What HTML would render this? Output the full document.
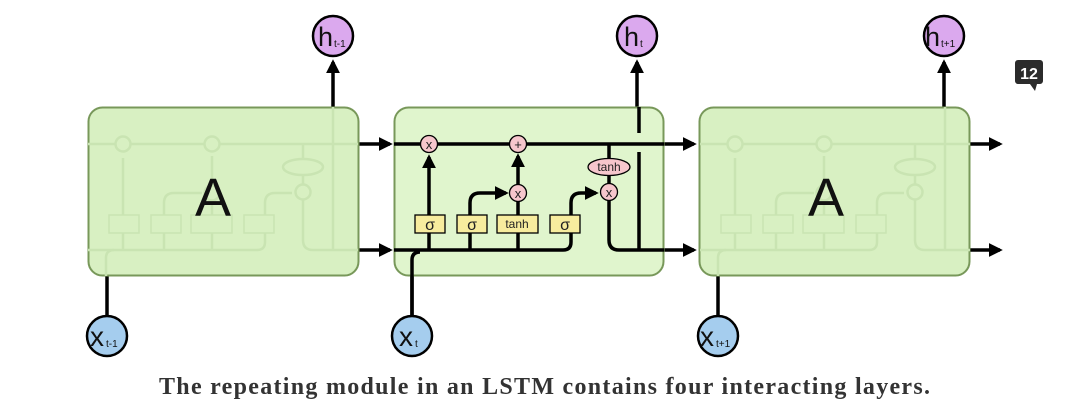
<!DOCTYPE html>
<html><head><meta charset="utf-8"><style>
html,body{margin:0;padding:0;background:#fff;width:1080px;height:411px;overflow:hidden}
svg{display:block}
</style></head><body>
<svg width="1080" height="411" viewBox="0 0 1080 411" xmlns="http://www.w3.org/2000/svg" font-family="Liberation Sans, DejaVu Sans, sans-serif">
<defs>
<marker id="ah" markerWidth="4" markerHeight="4" refX="3.2" refY="2" orient="auto" markerUnits="strokeWidth"><path d="M0,0 L4,2 L0,4 z" fill="#000"/></marker>
</defs>

<g stroke="#000" stroke-width="3.5" fill="none">
<line x1="358" y1="144" x2="390" y2="144" marker-end="url(#ah)"/>
<line x1="358" y1="250" x2="390" y2="250" marker-end="url(#ah)"/>
<line x1="664" y1="144" x2="694" y2="144" marker-end="url(#ah)"/>
<line x1="664" y1="250" x2="694" y2="250" marker-end="url(#ah)"/>
<line x1="970" y1="144" x2="1000" y2="144" marker-end="url(#ah)"/>
<line x1="970" y1="250" x2="1000" y2="250" marker-end="url(#ah)"/>
<line x1="333" y1="107" x2="333" y2="62" marker-end="url(#ah)"/>
<line x1="637" y1="107" x2="637" y2="62" marker-end="url(#ah)"/>
<line x1="944" y1="107" x2="944" y2="62" marker-end="url(#ah)"/>
<line x1="107" y1="276" x2="107" y2="316"/>
<line x1="412" y1="276" x2="412" y2="316"/>
<line x1="718" y1="276" x2="718" y2="316"/>
</g>

<rect x="88.5" y="107.5" width="270" height="168" rx="14" fill="#d8f0c2" stroke="#78985a" stroke-width="2"/>
<g transform="translate(-306,0)" stroke="#c9e4b2" stroke-width="2.5" fill="none">
<line x1="394" y1="144" x2="664" y2="144"/>
<path d="M394 250 L563 250 Q571 250 571 242 L571 203 Q571 193 581 193 L598 193"/>
<path d="M412 276 L412 258 Q412 250 420 250"/>
<line x1="429" y1="250" x2="429" y2="158"/>
<path d="M470 250 L470 203 Q470 193 480 193 L508 193"/>
<line x1="518" y1="250" x2="518" y2="156"/>
<line x1="609" y1="144" x2="609" y2="184"/>
<path d="M609 200 L609 240 Q609 250 619 250 L664 250"/>
<line x1="639" y1="107" x2="639" y2="250"/>
<circle cx="429" cy="144" r="7.5" fill="#d8f0c2"/><circle cx="518" cy="144" r="7.5" fill="#d8f0c2"/>
<circle cx="518" cy="193" r="7.5" fill="#d8f0c2"/><circle cx="609" cy="192" r="7.5" fill="#d8f0c2"/>
<ellipse cx="609" cy="167" rx="20" ry="8" fill="#d8f0c2"/>
<rect x="415" y="215" width="30" height="18" fill="#d8f0c2" stroke-width="1.5"/><rect x="457" y="215" width="30" height="18" fill="#d8f0c2" stroke-width="1.5"/>
<rect x="497" y="215" width="41" height="18" fill="#d8f0c2" stroke-width="1.5"/><rect x="550" y="215" width="30" height="18" fill="#d8f0c2" stroke-width="1.5"/>
</g>
<text x="213" y="216" font-size="54" text-anchor="middle" fill="#111">A</text>

<rect x="699.5" y="107.5" width="270" height="168" rx="14" fill="#d8f0c2" stroke="#78985a" stroke-width="2"/>
<g transform="translate(306,0)" stroke="#c9e4b2" stroke-width="2.5" fill="none">
<line x1="394" y1="144" x2="664" y2="144"/>
<path d="M394 250 L563 250 Q571 250 571 242 L571 203 Q571 193 581 193 L598 193"/>
<path d="M412 276 L412 258 Q412 250 420 250"/>
<line x1="429" y1="250" x2="429" y2="158"/>
<path d="M470 250 L470 203 Q470 193 480 193 L508 193"/>
<line x1="518" y1="250" x2="518" y2="156"/>
<line x1="609" y1="144" x2="609" y2="184"/>
<path d="M609 200 L609 240 Q609 250 619 250 L664 250"/>
<line x1="639" y1="107" x2="639" y2="250"/>
<circle cx="429" cy="144" r="7.5" fill="#d8f0c2"/><circle cx="518" cy="144" r="7.5" fill="#d8f0c2"/>
<circle cx="518" cy="193" r="7.5" fill="#d8f0c2"/><circle cx="609" cy="192" r="7.5" fill="#d8f0c2"/>
<ellipse cx="609" cy="167" rx="20" ry="8" fill="#d8f0c2"/>
<rect x="415" y="215" width="30" height="18" fill="#d8f0c2" stroke-width="1.5"/><rect x="457" y="215" width="30" height="18" fill="#d8f0c2" stroke-width="1.5"/>
<rect x="497" y="215" width="41" height="18" fill="#d8f0c2" stroke-width="1.5"/><rect x="550" y="215" width="30" height="18" fill="#d8f0c2" stroke-width="1.5"/>
</g>
<text x="826" y="216" font-size="54" text-anchor="middle" fill="#111">A</text>

<rect x="394.5" y="107.5" width="269" height="168" rx="14" fill="#e0f5cd" stroke="#78985a" stroke-width="2"/>
<g stroke="#000" stroke-width="3.5" fill="none">
<line x1="394" y1="144" x2="664" y2="144"/>
<line x1="639" y1="107" x2="639" y2="133"/>
<line x1="639" y1="152" x2="639" y2="250"/>
<path d="M394 250 L563 250 Q571 250 571 242 L571 203 Q571 193 581 193 L596 193" marker-end="url(#ah)"/>
<path d="M412 316 L412 260 Q412 252 420 252"/>
<line x1="429" y1="250" x2="429" y2="157" marker-end="url(#ah)"/>
<path d="M470 250 L470 203 Q470 193 480 193 L506 193" marker-end="url(#ah)"/>
<line x1="518" y1="250" x2="518" y2="156" marker-end="url(#ah)"/>
<line x1="609" y1="144" x2="609" y2="184"/>
<path d="M609 200 L609 240 Q609 250 619 250 L664 250"/>
</g>
<g stroke="#000" stroke-width="1.3">
<circle cx="429" cy="144" r="8.5" fill="#f6c6cc"/><circle cx="518" cy="144" r="8.5" fill="#f6c6cc"/>
<circle cx="518" cy="193" r="8.5" fill="#f6c6cc"/><circle cx="609" cy="192" r="8.5" fill="#f6c6cc"/>
<ellipse cx="609" cy="167" rx="21" ry="8.5" fill="#f6c6cc"/>
<rect x="415" y="215" width="30" height="18" fill="#f7ec9e"/><rect x="457" y="215" width="30" height="18" fill="#f7ec9e"/>
<rect x="497" y="215" width="41" height="18" fill="#f7ec9e"/><rect x="550" y="215" width="30" height="18" fill="#f7ec9e"/>
</g>
<g font-size="13" text-anchor="middle" fill="#222">
<text x="429" y="149">x</text><text x="518" y="149">+</text><text x="518" y="198">x</text><text x="609" y="197">x</text>
<text x="609" y="171" font-size="12">tanh</text>
<text x="430" y="230" font-size="16">σ</text><text x="472" y="230" font-size="16">σ</text>
<text x="517" y="228" font-size="12">tanh</text><text x="565" y="230" font-size="16">σ</text>
</g>

<g stroke="#000" stroke-width="2.5" fill="#dba9ee">
<circle cx="333" cy="36" r="20"/><circle cx="637" cy="36" r="20"/><circle cx="944" cy="36" r="20"/>
</g>
<g fill="#111">
<text x="318" y="46" font-size="27">h</text><text x="334" y="47" font-size="10">t-1</text>
<text x="624" y="46" font-size="27">h</text><text x="640" y="47" font-size="10">t</text>
<text x="925" y="46" font-size="27">h</text><text x="941" y="47" font-size="10">t+1</text>
</g>
<g stroke="#000" stroke-width="2.5" fill="#a5cdee">
<circle cx="107" cy="336" r="20"/><circle cx="412" cy="336" r="20"/><circle cx="718" cy="336" r="20"/>
</g>
<g fill="#111">
<text x="90" y="346" font-size="28">x</text><text x="106" y="347" font-size="10">t-1</text>
<text x="399" y="346" font-size="28">x</text><text x="415" y="347" font-size="10">t</text>
<text x="700" y="346" font-size="28">x</text><text x="716" y="347" font-size="10">t+1</text>
</g>

<path d="M1018 60 h22 a3 3 0 0 1 3 3 v18 a3 3 0 0 1 -3 3 h-3 l-2 7 l-5 -7 h-12 a3 3 0 0 1 -3 -3 v-18 a3 3 0 0 1 3 -3z" fill="#2b2b2b"/>
<text x="1029" y="79" font-size="16" font-weight="bold" fill="#fff" text-anchor="middle">12</text>

<text x="159" y="394" textLength="771" lengthAdjust="spacing" font-family="Liberation Serif, DejaVu Serif, serif" font-size="24" font-weight="bold" fill="#333">The repeating module in an LSTM contains four interacting layers.</text>
</svg>
</body></html>
